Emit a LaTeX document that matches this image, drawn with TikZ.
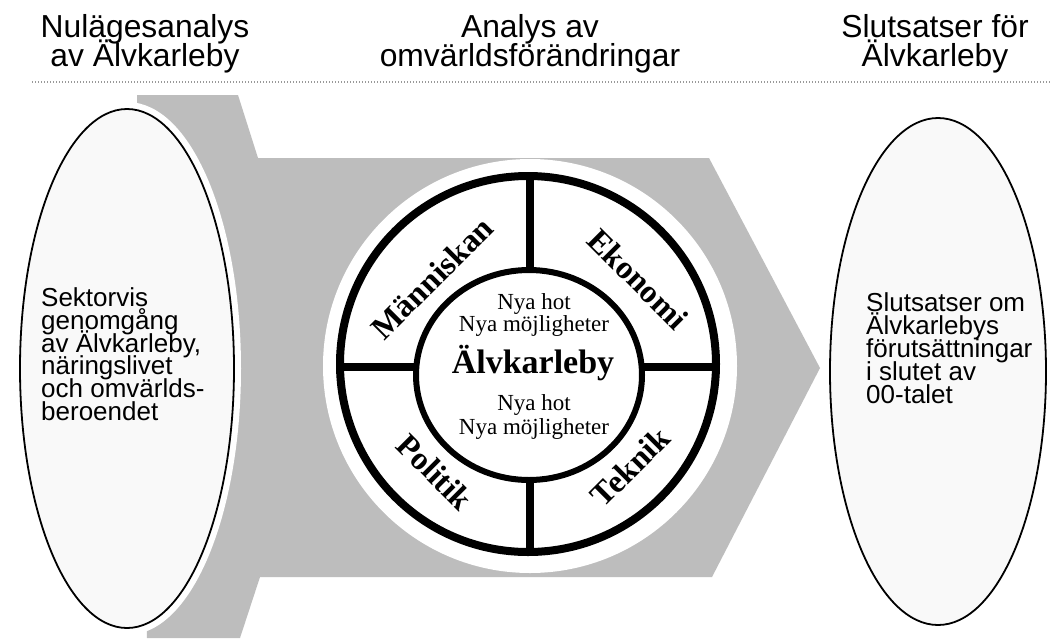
\documentclass[tikz,border=0pt]{standalone}
\usepackage{fontspec}
\setmainfont{Liberation Serif}
\setsansfont{Liberation Sans}
\definecolor{bandgray}{gray}{0.74}
\definecolor{ovalfill}{gray}{0.975}
\definecolor{dotgray}{gray}{0.6}
% stacked lines with a fixed baseline distance; the box baseline is the first line's
\newcommand{\mycstack}[2]{\vtop{\baselineskip=#1\lineskiplimit=-100pt\lineskip=0pt\halign{\hfil##\hfil\cr #2\crcr}}}
\newcommand{\mylstack}[2]{\vtop{\baselineskip=#1\lineskiplimit=-100pt\lineskip=0pt\halign{##\hfil\cr #2\crcr}}}
\begin{document}
\begin{tikzpicture}[x=1pt,y=-1pt,
  title/.style={font=\sffamily\fontsize{31.8}{29}\selectfont, anchor=base, inner sep=0pt},
  ovaltext/.style={font=\sffamily\fontsize{26}{23}\selectfont, anchor=base west, inner sep=0pt},
  ringlabel/.style={font=\rmfamily\bfseries\fontsize{32.5}{34}\selectfont, inner sep=0pt},
  smalltext/.style={font=\rmfamily\fontsize{23}{23}\selectfont, anchor=base, inner sep=0pt},
  bigtext/.style={font=\rmfamily\bfseries\fontsize{34}{34}\selectfont, anchor=base, inner sep=0pt},
  thickline/.style={line width=8pt, black},
]
\useasboundingbox (0,0) rectangle (1050,638);
\fill[white] (0,0) rectangle (1050,638);

% titles
\node[title] (t1) at (145,37) {\mycstack{29pt}{Nulägesanalys\cr av Älvkarleby}};
\node[title] (t2) at (530,37) {\mycstack{29pt}{Analys av\cr omvärldsförändringar}};
\node[title] (t3) at (935,37) {\mycstack{29pt}{Slutsatser för\cr Älvkarleby}};

% dotted rule
\coordinate (r1) at (32,82);
\coordinate (r2) at (1050,82);
\draw[dotgray, line width=1.2pt, dash pattern=on 1pt off 2pt] (r1) -- (r2);

% gray band (arrow)
\fill[bandgray] (137,95) -- (238,95) -- (258,158) -- (709,158) -- (820,368)
  -- (712,577) -- (260,577) -- (240,638) -- (147,638) -- cycle;

% left oval
\draw[white, line width=14pt] (127,368.5) ellipse [x radius=107, y radius=259.5];
\draw[fill=ovalfill, line width=1.8pt] (127,368.5) ellipse [x radius=107, y radius=259.5];
\node (L) at (127,368.5) {};

% right oval
\draw[fill=ovalfill, line width=1.8pt] (938,371.5) ellipse [x radius=108, y radius=253.5];
\node (R) at (938,371.5) {};

% wheel
\fill[white] (530,366) circle [radius=207];
\draw[thickline, fill=white] (528,364) circle [radius=188];
\coordinate (vt) at (530,176);
\coordinate (vti) at (530,272);
\coordinate (vb) at (530,552);
\coordinate (vbi) at (530,478);
\coordinate (hl) at (340,367);
\coordinate (hli) at (418,367);
\coordinate (hr) at (716,367);
\coordinate (hri) at (640,367);
\draw[thickline] (vt) -- (vti);
\draw[thickline] (vb) -- (vbi);
\draw[thickline] (hl) -- (hli);
\draw[thickline] (hr) -- (hri);
\draw[line width=6pt, fill=white] (529,375) ellipse [x radius=113, y radius=105];

% ring labels
\node[ringlabel, rotate=45] (m) at (432,278) {Människan};
\node[ringlabel, rotate=-45] (e) at (638,279) {Ekonomi};
\node[ringlabel, rotate=-45] (p) at (435,472) {Politik};
\node[ringlabel, rotate=45] (tk) at (630,467) {Teknik};

% centre texts
\node[smalltext] (c1) at (534,309) {\mycstack{22.7pt}{Nya hot\cr Nya möjligheter}};
\node[bigtext] (c3) at (533,373) {Älvkarleby};
\node[smalltext] (c4) at (534,410.7) {\mycstack{23.3pt}{Nya hot\cr Nya möjligheter}};

% oval texts
\node[ovaltext] (lt) at (41,306.7) {\mylstack{22.7pt}{Sektorvis\cr genomgång\cr av Älvkarleby,\cr näringslivet\cr och omvärlds-\cr beroendet}};
\node[ovaltext] (rt) at (866,311) {\mylstack{23pt}{Slutsatser om\cr Älvkarlebys\cr förutsättningar\cr i slutet av\cr 00-talet}};
\end{tikzpicture}
\end{document}
